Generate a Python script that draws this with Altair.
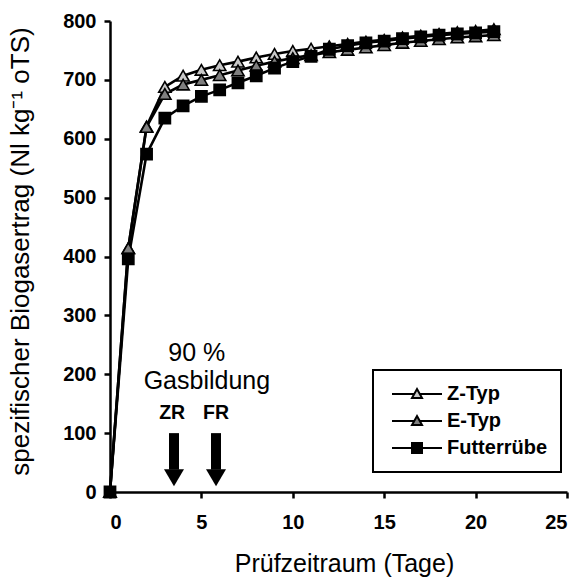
import altair as alt
import pandas as pd

days = list(range(0, 22))
z_typ = [0, 414, 621, 688, 707, 717, 725, 731, 738, 744, 749, 753, 757, 761, 765, 768, 772, 775, 778, 781, 783, 786]
e_typ = [0, 414, 620, 676, 692, 700, 708, 716, 724, 731, 737, 742, 747, 751, 755, 759, 763, 766, 769, 772, 774, 776]
futter = [0, 396, 574, 635, 656, 672, 683, 695, 707, 720, 731, 740, 752, 758, 763, 766, 770, 773, 776, 778, 780, 782]
series_names = ["Z-Typ", "E-Typ", "Futterrübe"]
series_fill = ["#c8c8c8", "#7f7f7f", "#000000"]
series_stroke = ["#000000", "#000000", "#000000"]
series_shape = ["triangle-up", "triangle-up", "square"]
series_size = [150, 150, 125]
legend_shape = ["M-1,0H3.44M4.56,0H9M4,-1L5,0.8L3,0.8Z",
                "M-1,0H3.44M4.56,0H9M4,-1L5,0.8L3,0.8Z",
                "M-1,0H3M5,0H9M3,-1H5V1H3Z"]

arrow_x = [3.5, 5.8]
arrow_lab = ["ZR", "FR"]
arrow_top = [100, 100]
arrow_base = [38, 38]
arrow_tip = [24, 24]
label_y = [134, 134]
label_x = [3.4, 5.8]

note_lines = ["90 %", "Gasbildung"]
note_x = [4.75, 5.3]
note_y = [236, 188]

rows = []
for name, vals in zip(series_names, [z_typ, e_typ, futter]):
    for d, v in zip(days, vals):
        rows.append({"Tag": d, "Wert": v, "Serie": name})
df = pd.DataFrame(rows)

arrows = pd.DataFrame({"x": arrow_x, "top": arrow_top, "base": arrow_base,
                       "tip": arrow_tip, "lab": arrow_lab, "ly": label_y, "lx": label_x})
notes = pd.DataFrame({"x": note_x, "y": note_y, "t": note_lines})

FONT = "Liberation Sans"

xs = alt.X("Tag:Q", scale=alt.Scale(domain=[0, 25], nice=False),
           axis=alt.Axis(values=[0, 5, 10, 15, 20, 25], title="Prüfzeitraum (Tage)",
                         labelPadding=14,
                         titleX=234, titleY=71, titleBaseline="middle", titleAlign="center"))
ys = alt.Y("Wert:Q", scale=alt.Scale(domain=[0, 800], nice=False),
           axis=alt.Axis(values=list(range(0, 801, 100)),
                         title="spezifischer Biogasertrag (Nl kg⁻¹ oTS)",
                         labelPadding=8, titleFontSize=26,
                         titleX=-90, titleY=230, titleAlign="center", titleBaseline="middle",
                         titleAngle=-90))

lines = alt.Chart(df).mark_line(color="black", strokeWidth=2.6, clip=False).encode(
    x=xs, y=ys, detail="Serie:N", order="Tag:Q")

point_layers = []
for name, fill, shp, sz in zip(series_names, series_fill, series_shape, series_size):
    point_layers.append(
        alt.Chart(df).transform_filter(alt.datum.Serie == name).mark_point(
            filled=True, fill=fill, stroke="black", strokeWidth=1.6, size=sz,
            opacity=1, shape=shp, clip=False).encode(x="Tag:Q", y="Wert:Q"))

leg = dict(title=None, orient="none", legendX=263, legendY=349, symbolOpacity=1)
legend_layer = alt.Chart(df).mark_point(filled=True, opacity=0, size=100,
                                        strokeWidth=2).encode(
    x="Tag:Q", y="Wert:Q",
    shape=alt.Shape("Serie:N", scale=alt.Scale(domain=series_names, range=legend_shape),
                    legend=alt.Legend(**leg)),
    fill=alt.Fill("Serie:N", scale=alt.Scale(domain=series_names, range=series_fill),
                  legend=alt.Legend(**leg)),
    stroke=alt.Stroke("Serie:N", scale=alt.Scale(domain=series_names, range=series_stroke),
                      legend=alt.Legend(**leg)),
)

shafts = alt.Chart(arrows).mark_rule(color="black", strokeWidth=10).encode(
    x="x:Q", y="top:Q", y2="base:Q")
heads = alt.Chart(arrows).mark_point(shape="M-1,-0.85L1,-0.85L0,0.85Z", size=400,
                                     filled=True, color="black", opacity=1).encode(
    x="x:Q", y="tip:Q")
arrow_text = alt.Chart(arrows).mark_text(font=FONT, fontSize=19.5, fontWeight="bold",
                                         color="black", baseline="middle").encode(
    x="lx:Q", y="ly:Q", text="lab:N")
note_text = alt.Chart(notes).mark_text(font=FONT, fontSize=25, color="black",
                                       baseline="middle").encode(
    x="x:Q", y="y:Q", text="t:N")

chart = alt.layer(lines, shafts, heads, arrow_text, note_text, legend_layer,
                  *point_layers).properties(
    width=457, height=471,
    autosize=alt.AutoSizeParams(type="none"),
    padding={"left": 110, "top": 21, "right": 13, "bottom": 87},
).configure_view(stroke=None).configure_axis(
    domainColor="black", domainWidth=2.5, tickColor="black", tickWidth=2.5, tickSize=6,
    labelFont=FONT, labelFontSize=20, labelFontWeight="bold", labelColor="black",
    titleFont=FONT, titleFontSize=25, titleFontWeight="normal",
    titleColor="black", grid=False
).configure_legend(
    strokeColor="black", strokeWidth=2, padding=14, fillColor="white",
    labelFont=FONT, labelFontSize=20, labelFontWeight="bold", labelColor="black",
    labelOffset=40, symbolSize=100, symbolStrokeWidth=2,
    rowPadding=7, labelLimit=300
)

chart.save("out.html", embed_options={"renderer": "svg", "actions": False})
